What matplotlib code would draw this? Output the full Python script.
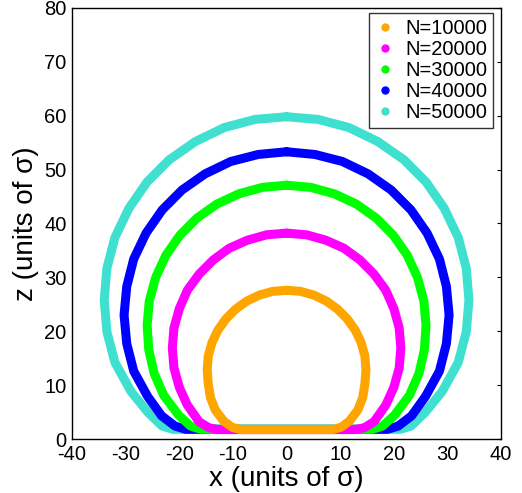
import matplotlib
matplotlib.use("Agg")
import matplotlib.pyplot as plt
from matplotlib.lines import Line2D

plt.rcParams['font.family'] = ['Liberation Sans', 'DejaVu Sans']
plt.rcParams['axes.unicode_minus'] = False

labels = ['N=10000', 'N=20000', 'N=30000', 'N=40000', 'N=50000']
colors = ['#FFA500', '#FF00FF', '#00FF00', '#0000FF', '#40E0D0']

# droplet contours (x, z):
# top -> right side -> base -> left side -> back to top
x_10000 = [0, 2.6, 5.1, 7.4, 9.5, 11.3, 12.8, 13.9, 14.6, 14.8, 14.6, 14.2, 13.3, 11.7, 10.2, 8.6,
           -8.6, -10.2, -11.7, -13.3, -14.2, -14.6, -14.8, -14.6, -13.9, -12.8, -11.3, -9.5, -7.4, -5.1, -2.6, 0]
z_10000 = [27.6, 27.4, 26.7, 25.6, 24.1, 22.3, 20.2, 17.9, 15.4, 12.8, 10.2, 7.7, 5.4, 3.3, 2.2, 1.75,
           1.75, 2.2, 3.3, 5.4, 7.7, 10.2, 12.8, 15.4, 17.9, 20.2, 22.3, 24.1, 25.6, 26.7, 27.4, 27.6]

x_20000 = [0, 3.7, 7.3, 10.7, 13.7, 16.3, 18.5, 20.0, 21.0, 21.3, 21.0, 20.0, 18.5, 16.3, 14.5, 12.8,
           -12.8, -14.5, -16.3, -18.5, -20.0, -21.0, -21.3, -21.0, -20.0, -18.5, -16.3, -13.7, -10.7, -7.3, -3.7, 0]
z_20000 = [38.2, 37.9, 36.9, 35.4, 33.2, 30.6, 27.6, 24.2, 20.6, 16.9, 13.2, 9.6, 6.3, 3.2, 2.1, 1.75,
           1.75, 2.1, 3.2, 6.3, 9.6, 13.2, 16.9, 20.6, 24.2, 27.6, 30.6, 33.2, 35.4, 36.9, 37.9, 38.2]

x_30000 = [0, 4.5, 8.9, 13.0, 16.7, 19.9, 22.5, 24.4, 25.6, 26.0, 25.7, 24.7, 22.9, 20.1, 17.9, 16.0,
           -16.0, -17.9, -20.1, -22.9, -24.7, -25.7, -26.0, -25.6, -24.4, -22.5, -19.9, -16.7, -13.0, -8.9, -4.5, 0]
z_30000 = [47.1, 46.7, 45.5, 43.6, 41.0, 37.8, 34.1, 30.0, 25.6, 21.1, 16.6, 12.2, 8.1, 4.4, 2.4, 1.8,
           1.8, 2.4, 4.4, 8.1, 12.2, 16.6, 21.1, 25.6, 30.0, 34.1, 37.8, 41.0, 43.6, 45.5, 46.7, 47.1]

x_40000 = [0, 5.3, 10.4, 15.2, 19.5, 23.2, 26.2, 28.5, 29.8, 30.3, 29.8, 28.5, 25.9, 23.3, 20.8, 18.8,
           -18.8, -20.8, -23.3, -25.9, -28.5, -29.8, -30.3, -29.8, -28.5, -26.2, -23.2, -19.5, -15.2, -10.4, -5.3, 0]
z_40000 = [53.3, 52.8, 51.5, 49.2, 46.2, 42.5, 38.2, 33.4, 28.3, 23.0, 17.7, 12.6, 7.9, 4.3, 2.4, 1.8,
           1.8, 2.4, 4.3, 7.9, 12.6, 17.7, 23.0, 28.3, 33.4, 38.2, 42.5, 46.2, 49.2, 51.5, 52.8, 53.3]

x_50000 = [0, 5.9, 11.6, 17.0, 21.9, 26.0, 29.4, 32.0, 33.5, 34.0, 33.5, 32.0, 29.0, 25.8, 23.2, 21.2,
           -21.2, -23.2, -25.8, -29.0, -32.0, -33.5, -34.0, -33.5, -32.0, -29.4, -26.0, -21.9, -17.0, -11.6, -5.9, 0]
z_50000 = [59.8, 59.3, 57.8, 55.2, 51.8, 47.7, 42.8, 37.4, 31.7, 25.8, 19.9, 14.2, 8.8, 4.9, 2.4, 1.8,
           1.8, 2.4, 4.9, 8.8, 14.2, 19.9, 25.8, 31.7, 37.4, 42.8, 47.7, 51.8, 55.2, 57.8, 59.3, 59.8]

xs = [x_10000, x_20000, x_30000, x_40000, x_50000]
zs = [z_10000, z_20000, z_30000, z_40000, z_50000]

fig = plt.figure(figsize=(5.22, 4.93), dpi=100)
ax = fig.add_axes([0.138, 0.1095, 0.822, 0.8745])

# largest droplet underneath, smallest on top
for i in range(len(labels)):
    ax.plot(xs[i], zs[i], color=colors[i], lw=6.5, solid_joinstyle='round',
            solid_capstyle='round', zorder=10 - i)

ax.set_xlim(-40, 40)
ax.set_ylim(0, 80)
ax.set_xticks(range(-40, 41, 10))
ax.set_yticks(range(0, 81, 10))
ax.tick_params(axis='x', length=0, labelsize=14.5, pad=4)
ax.tick_params(axis='y', left=False, right=True, direction='in', length=3,
               labelsize=14.5, pad=4)
for s in ax.spines.values():
    s.set_linewidth(1.0)

ax.set_xlabel('x (units of σ)', fontsize=20, labelpad=2)
ax.set_ylabel('z (units of σ)', fontsize=20, labelpad=4)

handles = [Line2D([], [], ls='none', marker='o', ms=5, color=c) for c in colors]
leg = ax.legend(handles, labels, loc='upper right', bbox_to_anchor=(0.982, 0.988),
                fontsize=14.5, frameon=True, fancybox=False, borderpad=0.3,
                labelspacing=0.1, handlelength=1.0, handletextpad=0.5,
                borderaxespad=0)
leg.get_frame().set_edgecolor('black')
leg.get_frame().set_linewidth(1.0)

plt.savefig('out.png', dpi=100)
